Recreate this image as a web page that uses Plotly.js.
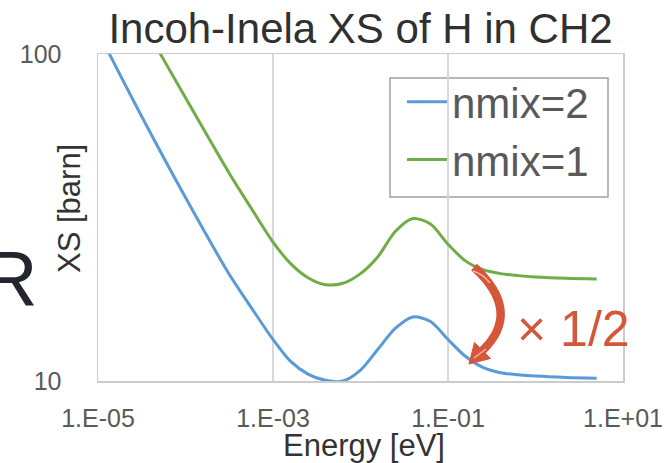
<!DOCTYPE html>
<html>
<head>
<meta charset="utf-8">
<script src="https://cdn.plot.ly/plotly-3.0.1.min.js"></script>
<style>html,body{margin:0;padding:0;background:#fff;}#chart{width:664px;height:463px;}</style>
</head>
<body>
<div id="chart"></div>
<script>
// Energy grid [eV] and cross sections [barn]
const energy = [1e-5, 3.16e-5, 1e-4, 3.16e-4, 5.62e-4, 1e-3, 1.58e-3, 2.51e-3, 3.98e-3, 6.31e-3, 1e-2, 1.58e-2, 2.51e-2, 3.98e-2, 6.31e-2, 0.1, 0.158, 0.251, 0.398, 0.631, 1, 2.24, 5];
const xsNmix2 = [117, 64.4, 36.4, 21.2, 16.8, 13.4, 11.5, 10.5, 10.05, 10.0, 10.8, 12.5, 14.5, 15.7, 15.2, 13.4, 11.9, 11.0, 10.6, 10.45, 10.35, 10.25, 10.2];
const xsNmix1 = [217, 126, 73.5, 43.2, 33.8, 26.6, 22.9, 20.7, 19.7, 19.9, 21.3, 24.0, 28.7, 31.4, 30.2, 26.2, 23.3, 21.9, 21.3, 21.0, 20.8, 20.6, 20.5];
const seriesNames = ['nmix=2', 'nmix=1'];
const xTickVals = [1e-5, 1e-3, 1e-1, 10];
const xTickText = ['1.E-05', '1.E-03', '1.E-01', '1.E+01'];
const yTickVals = [10, 100];
const yTickText = ['10', '100'];

const FONT = 'Liberation Sans, Arial, sans-serif';
const W = 664, H = 463, ML = 98, MR = 41, MT = 54, MB = 82;
const PW = W - ML - MR, PH = H - MT - MB;
const X = px => (px - ML) / PW;
const Y = py => (H - MB - py) / PH;
const RED = '#D5563A';

function pathStr(cmds) {
  return cmds.map(c => c[0] + ' ' + c.slice(1).map((v, i) => (i % 2 === 0 ? X(v) : Y(v)).toFixed(5)).join(' ')).join(' ');
}

const traces = [
  {x: energy, y: xsNmix2, name: seriesNames[0], mode: 'lines', type: 'scatter',
   line: {color: '#5B9BD5', width: 3, shape: 'spline', smoothing: 0.8}},
  {x: energy, y: xsNmix1, name: seriesNames[1], mode: 'lines', type: 'scatter',
   line: {color: '#70AD47', width: 3, shape: 'spline', smoothing: 0.8}}
];

const layout = {
  width: W, height: H,
  margin: {l: ML, r: MR, t: MT, b: MB},
  paper_bgcolor: '#fff', plot_bgcolor: '#fff',
  font: {family: FONT},
  title: {text: 'Incoh-Inela XS of H in CH2', font: {size: 42, color: '#303030', family: FONT},
          x: 0.5, xref: 'paper', y: 1 - 28 / H, yref: 'container', yanchor: 'middle'},
  xaxis: {type: 'log', range: [-5, 1], tickvals: xTickVals, ticktext: xTickText,
          showgrid: true, gridcolor: '#d9d9d9', gridwidth: 1.3,
          showline: true, linecolor: '#cccccc', linewidth: 1.5, mirror: true,
          ticks: '', ticklabelstandoff: 14,
          tickfont: {size: 25, color: '#595959', family: FONT}, zeroline: false},
  yaxis: {type: 'log', range: [1, 2], tickvals: yTickVals, ticktext: yTickText,
          showgrid: true, gridcolor: '#d9d9d9', gridwidth: 1.3,
          showline: true, linecolor: '#cccccc', linewidth: 1.5, mirror: true,
          ticks: '', ticklabelstandoff: 30,
          tickfont: {size: 25, color: '#595959', family: FONT}, zeroline: false},
  showlegend: true,
  legend: {x: X(402), y: Y(68), xanchor: 'left', yanchor: 'top',
           bgcolor: 'rgba(255,255,255,0)', borderwidth: 0,
           font: {size: 42, color: '#595959', family: FONT}, itemwidth: 40, tracegroupgap: 0},
  shapes: [
    {type: 'rect', xref: 'paper', yref: 'paper', layer: 'below',
     x0: X(390), x1: X(608), y0: Y(197), y1: Y(78),
     line: {color: '#a0a0a0', width: 1.5}, fillcolor: '#ffffff'},
    {type: 'path', xref: 'paper', yref: 'paper', layer: 'above',
     path: pathStr([['M', 474, 267], ['Q', 523, 312, 482, 351]]),
     line: {color: RED, width: 8.5}, fillcolor: 'rgba(0,0,0,0)'},
    {type: 'path', xref: 'paper', yref: 'paper', layer: 'above',
     path: pathStr([['M', 469, 364], ['L', 490.5, 358.5], ['L', 474.5, 342.5]]) + ' Z',
     line: {color: RED, width: 1}, fillcolor: RED},
    {type: 'path', xref: 'paper', yref: 'paper', layer: 'above',
     path: pathStr([['M', 473, 271], ['Q', 483, 274, 490, 283]]),
     line: {color: '#f2b6a6', width: 1.5}, fillcolor: 'rgba(0,0,0,0)'},
    {type: 'path', xref: 'paper', yref: 'paper', layer: 'above',
     path: pathStr([['M', 474, 358], ['Q', 481, 353, 486, 349]]),
     line: {color: '#f2b6a6', width: 1.5}, fillcolor: 'rgba(0,0,0,0)'}
  ],
  annotations: [
    {text: '× 1/2', xref: 'paper', yref: 'paper', x: X(515), y: Y(329), xanchor: 'left', yanchor: 'middle',
     showarrow: false, font: {size: 50, color: RED, family: FONT}},
    {text: 'R', xref: 'paper', yref: 'paper', x: X(40), y: Y(278), xanchor: 'right', yanchor: 'middle',
     showarrow: false, font: {size: 77, color: '#25252d', family: FONT}},
    {text: 'XS [barn]', xref: 'paper', yref: 'paper', x: X(69), y: Y(209), xanchor: 'center', yanchor: 'middle',
     textangle: -90, showarrow: false, font: {size: 31, color: '#333333', family: FONT}},
    {text: 'Energy [eV]', xref: 'paper', yref: 'paper', x: X(364), y: Y(445), xanchor: 'center', yanchor: 'middle',
     showarrow: false, font: {size: 31, color: '#333333', family: FONT}}
  ]
};

Plotly.newPlot('chart', traces, layout, {staticPlot: true, displayModeBar: false});
</script>
</body>
</html>
